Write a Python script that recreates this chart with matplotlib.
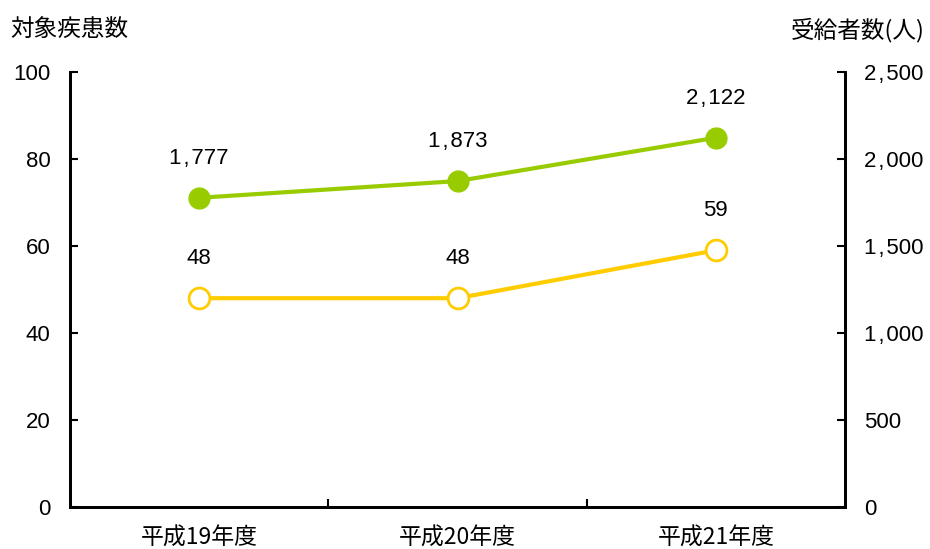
import matplotlib
matplotlib.use("Agg")
import matplotlib.pyplot as plt

plt.rcParams['font.family'] = ['Liberation Sans', 'Noto Sans CJK JP', 'DejaVu Sans']

categories = ["平成19年度", "平成20年度", "平成21年度"]
recipients = [1777, 1873, 2122]   # right axis, green
diseases = [48, 48, 59]           # left axis, yellow
left_ticks = [0, 20, 40, 60, 80, 100]
right_ticks = [0, 500, 1000, 1500, 2000, 2500]

green = "#99CC00"
yellow = "#FFCC00"

def fmt(v):
    s = f"{v:,}"
    return s.replace(",", "\u200a,\u200a")

fig = plt.figure(figsize=(9.3, 5.49), dpi=100)
ax = fig.add_axes([0.0753, 0.0765, 0.8333, 0.7924])
ax2 = ax.twinx()

x = list(range(len(categories)))
ax.plot(x, diseases, color=yellow, lw=3, marker='o', ms=15, mfc='white', mec=yellow, mew=2, zorder=3)
ax2.plot(x, recipients, color=green, lw=3, marker='o', ms=15, mfc=green, mec=green, zorder=3)

ax.set_xlim(-0.5, 2.5)
ax.set_ylim(0, 100)
ax2.set_ylim(0, 2500)
ax.set_yticks(left_ticks)
ax.set_yticklabels([str(v) for v in left_ticks], fontsize=16)
ax2.set_yticks(right_ticks)
ax2.set_yticklabels([fmt(v) for v in right_ticks], fontsize=16)

ax.set_xticks([0.5, 1.5])
ax.set_xticklabels([])
ax.set_xticks(x, minor=True)
ax.set_xticklabels(categories, minor=True, fontsize=16.5, family=['Noto Sans CJK JP'])
ax.tick_params(axis='x', which='minor', length=0, pad=14)
ax.tick_params(axis='x', which='major', direction='in', length=6, width=1.5)
ax.tick_params(axis='y', direction='in', length=6, width=1.5, pad=14)
ax2.tick_params(axis='y', direction='in', length=6, width=1.5, pad=14)

for a in (ax, ax2):
    a.spines['top'].set_visible(False)
    for s in ('left', 'right', 'bottom'):
        a.spines[s].set_linewidth(2)

for xi, v in zip(x, diseases):
    ax.annotate(str(v), (xi, v), xytext=(0, 21), textcoords='offset points',
                ha='center', va='bottom', fontsize=16)
for xi, v in zip(x, recipients):
    ax2.annotate(fmt(v), (xi, v), xytext=(0, 21), textcoords='offset points',
                 ha='center', va='bottom', fontsize=16)

fig.text(10/930, 1 - 30/549, "対象疾患数", fontsize=17, family=['Noto Sans CJK JP'], ha='left', va='center')
fig.text(925/930, 1 - 30/549, "受給者数(人)", fontsize=17, family=['Noto Sans CJK JP'], ha='right', va='center')

fig.savefig("out.png", dpi=100)
